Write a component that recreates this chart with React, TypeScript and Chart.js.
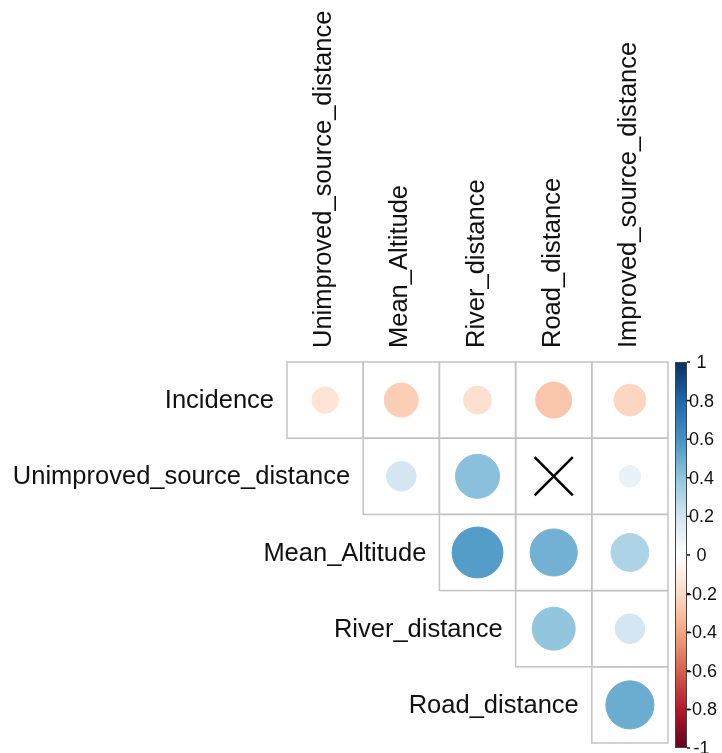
import { useEffect, useRef } from "react";
import { Chart, registerables } from "chart.js";

Chart.register(...registerables);

// ---- data ----
const rowLabels = [
  "Incidence",
  "Unimproved_source_distance",
  "Mean_Altitude",
  "River_distance",
  "Road_distance",
];
const colLabels = [
  "Unimproved_source_distance",
  "Mean_Altitude",
  "River_distance",
  "Road_distance",
  "Improved_source_distance",
];
// correlation of each row variable with each column variable (null = not shown)
const incidence = [-0.15, -0.25, -0.17, -0.28, -0.22];
const unimproved = [null, 0.19, 0.42, null, 0.1];
const meanAltitude = [null, null, 0.56, 0.48, 0.31];
const riverDistance = [null, null, null, 0.4, 0.19];
const roadDistance = [null, null, null, null, 0.5];
// non-significant cells (row, col) marked with a cross
const insigRow = [1];
const insigCol = [3];
// colour legend ticks
const legendValues = [1, 0.8, 0.6, 0.4, 0.2, 0, -0.2, -0.4, -0.6, -0.8, -1];
const legendLabels = ["1", "0.8", "0.6", "0.4", "0.2", "0", "-0.2", "-0.4", "-0.6", "-0.8", "-1"];

const matrix = [incidence, unimproved, meanAltitude, riverDistance, roadDistance];

const RDBU = [
  "#67001F", "#B2182B", "#D6604D", "#F4A582", "#FDDBC7", "#FFFFFF",
  "#D1E5F0", "#92C5DE", "#4393C3", "#2166AC", "#053061",
];

function hexToRgb(h: string) {
  return [parseInt(h.slice(1, 3), 16), parseInt(h.slice(3, 5), 16), parseInt(h.slice(5, 7), 16)];
}
function colorFor(v: number) {
  const t = Math.max(0, Math.min(10, ((v + 1) / 2) * 10));
  const i = Math.min(9, Math.floor(t));
  const f = t - i;
  const a = hexToRgb(RDBU[i]);
  const b = hexToRgb(RDBU[i + 1]);
  const c = a.map((x, k) => Math.round(x + (b[k] - x) * f));
  return `rgb(${c[0]},${c[1]},${c[2]})`;
}

const FONT = "'Liberation Sans', Arial, sans-serif";

export default function App() {
  const ref = useRef<HTMLCanvasElement>(null);
  useEffect(() => {
    const points: { x: number; y: number; v: number }[] = [];
    matrix.forEach((row, i) =>
      row.forEach((v, j) => {
        if (v !== null) points.push({ x: j, y: i, v: v as number });
      })
    );
    const crosses = insigRow.map((r, k) => ({ x: insigCol[k], y: r }));

    const cellSize = (chart: any) => {
      const s = chart.scales?.x;
      if (!s) return 76.2;
      const d = s.getPixelForValue(1) - s.getPixelForValue(0);
      return d > 0 ? d : 76.2;
    };

    const deco = {
      id: "corrDeco",
      beforeDatasetsDraw(chart: any) {
        const { ctx } = chart;
        const xs = chart.scales.x;
        const ys = chart.scales.y;
        const cs = cellSize(chart);
        ctx.save();
        ctx.strokeStyle = "#c4c4c4";
        ctx.lineWidth = 1.5;
        for (let i = 0; i < rowLabels.length; i++) {
          for (let j = 0; j < colLabels.length; j++) {
            if (j < i) continue;
            const cx = xs.getPixelForValue(j);
            const cy = ys.getPixelForValue(i);
            ctx.strokeRect(cx - cs / 2, cy - cs / 2, cs, cs);
          }
        }
        ctx.restore();
      },
      afterDraw(chart: any) {
        const { ctx } = chart;
        const xs = chart.scales.x;
        const ys = chart.scales.y;
        const cs = cellSize(chart);
        ctx.save();
        ctx.fillStyle = "#111";
        ctx.font = `25.5px ${FONT}`;
        // row labels (staircase)
        ctx.textAlign = "right";
        ctx.textBaseline = "middle";
        rowLabels.forEach((lab, i) => {
          const x = xs.getPixelForValue(i) - cs / 2 - 13;
          ctx.fillText(lab, x, ys.getPixelForValue(i) + 1);
        });
        // column labels (rotated)
        colLabels.forEach((lab, j) => {
          ctx.save();
          ctx.translate(xs.getPixelForValue(j) - 1, chart.chartArea.top - 14);
          ctx.rotate(-Math.PI / 2);
          ctx.textAlign = "left";
          ctx.textBaseline = "middle";
          ctx.fillText(lab, 0, 0);
          ctx.restore();
        });
        // colour legend
        const top = chart.chartArea.top;
        const bottom = chart.chartArea.bottom + 5;
        const left = chart.chartArea.right + 7;
        const w = 12;
        const g = ctx.createLinearGradient(0, top, 0, bottom);
        RDBU.forEach((c, k) => g.addColorStop(1 - k / (RDBU.length - 1), c));
        ctx.fillStyle = g;
        ctx.fillRect(left, top, w, bottom - top);
        ctx.strokeStyle = "#444";
        ctx.lineWidth = 1;
        ctx.strokeRect(left + 0.5, top + 0.5, w - 1, bottom - top - 1);
        ctx.font = `18px ${FONT}`;
        ctx.textAlign = "center";
        ctx.textBaseline = "middle";
        ctx.fillStyle = "#111";
        legendValues.forEach((v, k) => {
          const y = top + ((1 - v) / 2) * (bottom - top);
          ctx.beginPath();
          ctx.moveTo(left + w, y);
          ctx.lineTo(left + w + 3, y);
          ctx.strokeStyle = "#111";
          ctx.lineWidth = 1.5;
          ctx.stroke();
          ctx.fillText(legendLabels[k], left + w + 14.5, y + 1);
        });
        ctx.restore();
      },
    };

    const chart = new Chart(ref.current!, {
      type: "scatter",
      data: {
        datasets: [
          {
            data: points as any,
            clip: false as any,
            pointRadius: (c: any) =>
              Math.sqrt(Math.abs(c.raw?.v ?? 0)) * cellSize(c.chart) * 0.446,
            backgroundColor: (c: any) => colorFor(c.raw?.v ?? 0),
            borderColor: (c: any) => colorFor(c.raw?.v ?? 0),
            borderWidth: 1,
          },
          {
            data: crosses as any,
            clip: false as any,
            pointStyle: "crossRot",
            pointRadius: 27,
            borderColor: "#000",
            borderWidth: 2.5,
          },
        ],
      },
      options: {
        responsive: false,
        animation: false,
        events: [],
        layout: {
          autoPadding: false,
          padding: { left: 287, top: 362, right: 54, bottom: 10 },
        },
        plugins: { legend: { display: false }, tooltip: { enabled: false } },
        scales: {
          x: {
            type: "linear", min: -0.5, max: 4.5, display: false,
            afterFit: (s: any) => { s.height = 0; },
          },
          y: {
            type: "linear", min: -0.5, max: 4.5, reverse: true, display: false,
            afterFit: (s: any) => { s.width = 0; },
          },
        },
      },
      plugins: [deco],
    });
    return () => chart.destroy();
  }, []);
  return (
    <div style={{ position: "absolute", left: 0, top: 0, width: 722, height: 753 }}>
      <canvas
        ref={ref}
        width={722}
        height={753}
        style={{ display: "block", width: 722, height: 753 }}
      />
    </div>
  );
}
